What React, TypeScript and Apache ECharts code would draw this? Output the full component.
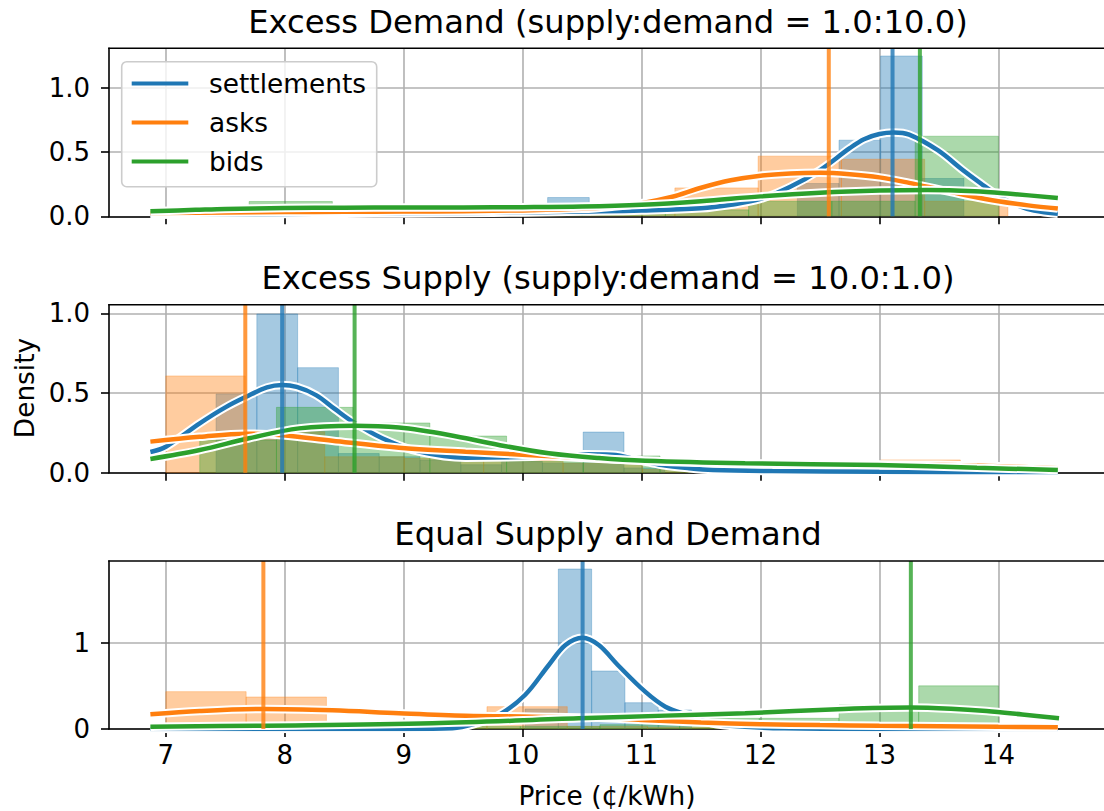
import React, { useEffect, useRef } from "react";
import * as echarts from "echarts";

const SERIES_NAMES = ["settlements", "asks", "bids"];
const LINE_COLORS = ["#1f77b4", "#ff7f0e", "#2ca02c"];
const FILL_COLORS = ["rgba(31,119,180,0.4)", "rgba(255,127,14,0.4)", "rgba(44,160,44,0.4)"];
const MEAN_COLORS = ["rgba(31,119,180,0.8)", "rgba(255,127,14,0.8)", "rgba(44,160,44,0.8)"];
const PANEL_TITLES = [
  "Excess Demand (supply:demand = 1.0:10.0)",
  "Excess Supply (supply:demand = 10.0:1.0)",
  "Equal Supply and Demand",
];
const X_LABEL = "Price (¢/kWh)";
const Y_LABEL = "Density";
const X_TICKS = [7, 8, 9, 10, 11, 12, 13, 14];
const Y_TICKS = [[0, 0.5, 1.0], [0, 0.5, 1.0], [0, 1]];
const Y_MAX = [1.307, 1.054, 1.947];
const Y_INTERVAL = [0.5, 0.5, 1];
const Y_DECIMALS = [1, 1, 0];
const X_MIN = 6.522;
const X_MAX = 14.888;

// histograms: [binStart, binEnd, density]
const p1SettleHist = [[10.21, 10.56, 0.146], [12.31, 12.66, 0.255], [12.66, 13.01, 0.592], [13.01, 13.36, 1.247], [13.36, 13.71, 0.294]];
const p1AsksHist = [[7.08, 7.78, 0.025], [7.78, 8.48, 0.025], [8.48, 9.18, 0.025], [9.18, 9.88, 0.025], [9.88, 10.58, 0.025], [10.58, 11.28, 0.04], [11.28, 11.98, 0.221], [11.98, 12.68, 0.468], [12.68, 13.38, 0.444], [13.38, 14.08, 0.117]];
const p1BidsHist = [[7.0, 7.7, 0.03], [7.7, 8.4, 0.115], [8.4, 9.1, 0.03], [9.1, 9.8, 0.03], [9.8, 10.5, 0.03], [10.5, 11.2, 0.05], [11.2, 11.9, 0.05], [11.9, 12.6, 0.117], [12.6, 13.3, 0.117], [13.3, 14.0, 0.623]];

const p2SettleHist = [[7.422, 7.765, 0.494], [7.765, 8.108, 0.996], [8.108, 8.451, 0.659], [8.451, 8.794, 0.12], [8.794, 9.137, 0.1], [9.137, 9.48, 0.08], [9.48, 9.823, 0.05], [9.823, 10.166, 0.07], [10.166, 10.509, 0.06], [10.509, 10.852, 0.255], [10.852, 11.195, 0.03]];
const p2AsksHist = [[7.0, 7.668, 0.607], [7.668, 8.336, 0.257], [8.336, 9.004, 0.1], [9.004, 9.672, 0.09], [9.672, 10.34, 0.08], [10.34, 11.008, 0.06], [11.008, 11.676, 0.02], [11.676, 12.344, 0.02], [12.344, 13.012, 0.0], [13.012, 13.68, 0.08]];
const p2BidsHist = [[7.285, 7.93, 0.205], [7.93, 8.575, 0.41], [8.575, 9.22, 0.312], [9.22, 9.865, 0.23], [9.865, 10.51, 0.07], [10.51, 11.155, 0.105], [11.155, 11.8, 0.03], [11.8, 12.445, 0.02], [12.445, 13.09, 0.02], [13.09, 13.735, 0.02]];

const p3SettleHist = [[10.02, 10.3, 0.232], [10.3, 10.58, 1.854], [10.58, 10.86, 0.672], [10.86, 11.14, 0.305], [11.14, 11.42, 0.22]];
const p3AsksHist = [[7.0, 7.675, 0.433], [7.675, 8.35, 0.371], [8.35, 9.025, 0.02], [9.025, 9.7, 0.04], [9.7, 10.375, 0.259], [10.375, 11.05, 0.03], [11.05, 11.725, 0.02], [11.725, 12.4, 0.015], [12.4, 13.075, 0.015], [13.075, 13.75, 0.015]];
const p3BidsHist = [[7.3, 7.97, 0.02], [7.97, 8.64, 0.02], [8.64, 9.31, 0.03], [9.31, 9.98, 0.03], [9.98, 10.65, 0.03], [10.65, 11.32, 0.05], [11.32, 11.99, 0.124], [11.99, 12.66, 0.124], [12.66, 13.33, 0.278], [13.33, 14.0, 0.5]];

// KDE curves: [price, density]
const p1SettleKde = [[6.87, 0.012], [7.5, 0.015], [8.0, 0.018], [8.5, 0.02], [9.0, 0.022], [9.5, 0.025], [10.0, 0.03], [10.5, 0.037], [11.0, 0.045], [11.5, 0.062], [11.75, 0.09], [12.0, 0.135], [12.25, 0.23], [12.5, 0.36], [12.75, 0.53], [12.87, 0.6], [13.0, 0.64], [13.12, 0.652], [13.25, 0.635], [13.49, 0.514], [13.7, 0.36], [13.85, 0.257], [14.0, 0.16], [14.16, 0.085], [14.3, 0.045], [14.5, 0.02]];
const p1AsksKde = [[6.87, 0.026], [7.5, 0.03], [8.0, 0.033], [8.5, 0.035], [9.0, 0.037], [9.5, 0.04], [10.0, 0.046], [10.5, 0.058], [10.75, 0.075], [11.0, 0.102], [11.25, 0.15], [11.5, 0.222], [11.75, 0.28], [12.0, 0.316], [12.25, 0.333], [12.5, 0.338], [12.75, 0.327], [13.0, 0.303], [13.25, 0.26], [13.5, 0.21], [13.75, 0.16], [14.0, 0.117], [14.25, 0.085], [14.5, 0.06]];
const p1BidsKde = [[6.87, 0.039], [7.25, 0.05], [7.5, 0.057], [8.0, 0.064], [8.5, 0.067], [9.0, 0.068], [9.5, 0.069], [10.0, 0.071], [10.5, 0.076], [11.0, 0.09], [11.5, 0.118], [12.0, 0.155], [12.5, 0.183], [13.0, 0.2], [13.4, 0.205], [13.8, 0.195], [14.1, 0.175], [14.5, 0.143]];

const p2SettleKde = [[6.87, 0.13], [7.0, 0.163], [7.285, 0.31], [7.5, 0.41], [7.676, 0.477], [7.85, 0.535], [7.978, 0.55], [8.1, 0.538], [8.263, 0.487], [8.42, 0.4], [8.57, 0.32], [8.82, 0.216], [9.13, 0.132], [9.52, 0.094], [10.08, 0.1], [10.5, 0.115], [10.75, 0.112], [11.0, 0.075], [11.17, 0.048], [11.4, 0.028], [11.6, 0.017], [12.1, 0.01], [13.0, 0.006], [14.5, 0.004]];
const p2AsksKde = [[6.87, 0.195], [7.285, 0.225], [7.668, 0.245], [7.98, 0.235], [8.4, 0.2], [8.96, 0.157], [9.52, 0.132], [10.08, 0.11], [10.64, 0.088], [11.0, 0.075], [11.5, 0.062], [12.0, 0.055], [12.5, 0.052], [13.0, 0.052], [13.5, 0.05], [14.0, 0.04], [14.5, 0.028]];
const p2BidsKde = [[6.87, 0.086], [7.285, 0.142], [7.7, 0.216], [8.12, 0.278], [8.587, 0.295], [8.96, 0.283], [9.38, 0.237], [9.8, 0.174], [10.22, 0.122], [10.64, 0.092], [11.03, 0.075], [11.87, 0.059], [12.99, 0.048], [13.82, 0.031], [14.5, 0.017]];

const p3SettleKde = [[6.87, 0.0], [9.0, 0.001], [9.41, 0.008], [9.6, 0.06], [9.8, 0.162], [10.02, 0.394], [10.22, 0.742], [10.36, 0.973], [10.504, 1.058], [10.64, 0.973], [10.8, 0.742], [11.03, 0.433], [11.2, 0.259], [11.39, 0.162], [11.59, 0.066], [11.87, 0.027], [12.2, 0.008], [13.0, 0.001], [14.5, 0.0]];
const p3AsksKde = [[6.87, 0.17], [7.285, 0.209], [7.82, 0.232], [8.4, 0.216], [8.96, 0.182], [9.52, 0.154], [10.08, 0.143], [10.64, 0.13], [11.0, 0.105], [11.5, 0.075], [12.0, 0.055], [12.5, 0.045], [13.0, 0.038], [13.5, 0.032], [14.0, 0.025], [14.5, 0.02]];
const p3BidsKde = [[6.87, 0.027], [7.84, 0.039], [9.24, 0.066], [10.47, 0.124], [11.2, 0.155], [11.87, 0.182], [12.7, 0.232], [13.26, 0.249], [13.6, 0.235], [13.9, 0.208], [14.2, 0.168], [14.51, 0.124]];

// means: settlements, asks, bids
const p1Means = [13.11, 12.574, 13.34];
const p2Means = [7.978, 7.668, 8.587];
const p3Means = [10.504, 7.82, 13.264];

const PANEL_HISTS = [[p1SettleHist, p1AsksHist, p1BidsHist], [p2SettleHist, p2AsksHist, p2BidsHist], [p3SettleHist, p3AsksHist, p3BidsHist]];
const PANEL_KDES = [[p1SettleKde, p1AsksKde, p1BidsKde], [p2SettleKde, p2AsksKde, p2BidsKde], [p3SettleKde, p3AsksKde, p3BidsKde]];
const PANEL_MEANS = [p1Means, p2Means, p3Means];

const FONT = "DejaVu Sans";
const GRID_LEFT = 109;
const GRID_WIDTH = 998;
const GRID_HEIGHT = 168;
const GRID_TOPS = [48.3, 304.7, 561];

function buildOption() {
  const grids = GRID_TOPS.map((top) => ({
    left: GRID_LEFT,
    top,
    width: GRID_WIDTH,
    height: GRID_HEIGHT,
    show: false,
  }));

  const xAxes = GRID_TOPS.map((_, i) => ({
    type: "value",
    gridIndex: i,
    min: X_MIN,
    max: X_MAX,
    splitNumber: 8,
    axisLine: { show: true, onZero: false, lineStyle: { color: "#000", width: 1.6 } },
    axisTick: { show: true, length: 8, customValues: X_TICKS, lineStyle: { color: "#000", width: 1.6 } },
    axisLabel: {
      show: i === 2,
      customValues: X_TICKS,
      fontSize: 26,
      fontFamily: FONT,
      color: "#000",
      margin: 13,
      formatter: (v: number) => (Math.abs(v - Math.round(v)) < 1e-6 ? String(Math.round(v)) : ""),
    },
    splitLine: { show: true, lineStyle: { color: "#b0b0b0", width: 1.6 } },
  }));

  const yAxes = GRID_TOPS.map((_, i) => ({
    type: "value",
    gridIndex: i,
    min: 0,
    max: Y_MAX[i],
    interval: Y_INTERVAL[i],
    axisLine: { show: true, onZero: false, lineStyle: { color: "#000", width: 1.6 } },
    axisTick: { show: true, length: 8, customValues: Y_TICKS[i], lineStyle: { color: "#000", width: 1.6 } },
    axisLabel: {
      show: true,
      customValues: Y_TICKS[i],
      fontSize: 26,
      fontFamily: FONT,
      color: "#000",
      margin: 19,
      formatter: (v: number) => {
        const ok = Y_TICKS[i].some((t) => Math.abs(t - v) < 1e-6);
        return ok ? v.toFixed(Y_DECIMALS[i]) : "";
      },
    },
    splitLine: { show: true, lineStyle: { color: "#b0b0b0", width: 1.6 } },
  }));

  const series: any[] = [];
  for (let p = 0; p < 3; p++) {
    for (let s = 0; s < 3; s++) {
      series.push({
        type: "custom",
        name: SERIES_NAMES[s] + " hist " + p,
        xAxisIndex: p,
        yAxisIndex: p,
        z: 2,
        silent: true,
        clip: true,
        encode: { x: [0, 1], y: 2 },
        data: PANEL_HISTS[p][s],
        renderItem: (params: any, api: any) => {
          const a = api.coord([api.value(0), api.value(2)]);
          const b = api.coord([api.value(1), 0]);
          return {
            type: "rect",
            shape: { x: a[0], y: a[1], width: b[0] - a[0], height: b[1] - a[1] },
            style: { fill: FILL_COLORS[s], stroke: FILL_COLORS[s], lineWidth: 0.8 },
          };
        },
      });
    }
    for (let s = 0; s < 3; s++) {
      series.push({
        type: "line",
        name: SERIES_NAMES[s] + " outline " + p,
        xAxisIndex: p,
        yAxisIndex: p,
        z: 3,
        silent: true,
        symbol: "none",
        showSymbol: false,
        smooth: 0.35,
        data: PANEL_KDES[p][s],
        lineStyle: { color: "#ffffff", width: 8.5 },
      });
      series.push({
        type: "line",
        name: SERIES_NAMES[s],
        xAxisIndex: p,
        yAxisIndex: p,
        z: 3,
        silent: true,
        symbol: "none",
        showSymbol: false,
        smooth: 0.35,
        data: PANEL_KDES[p][s],
        lineStyle: { color: LINE_COLORS[s], width: 4.5 },
      });
    }
    for (let s = 0; s < 3; s++) {
      series.push({
        type: "custom",
        name: SERIES_NAMES[s] + " mean " + p,
        xAxisIndex: p,
        yAxisIndex: p,
        z: 4,
        silent: true,
        encode: { x: 0, y: 1 },
        data: [[PANEL_MEANS[p][s], 0]],
        renderItem: (params: any, api: any) => {
          const x = api.coord([api.value(0), 0])[0];
          const cs = params.coordSys;
          return {
            type: "line",
            shape: { x1: x, y1: cs.y, x2: x, y2: cs.y + cs.height },
            style: { stroke: MEAN_COLORS[s], lineWidth: 4 },
          };
        },
      });
    }
  }

  const graphic: any[] = [];
  // top spines
  GRID_TOPS.forEach((top) => {
    graphic.push({
      type: "line",
      z: 90,
      shape: { x1: GRID_LEFT - 0.8, y1: top, x2: GRID_LEFT + GRID_WIDTH, y2: top },
      style: { stroke: "#000", lineWidth: 1.6 },
    });
  });
  const titleYs = [21.5, 278, 534];
  PANEL_TITLES.forEach((t, i) => {
    graphic.push({
      type: "text",
      z: 100,
      x: GRID_LEFT + GRID_WIDTH / 2,
      y: titleYs[i],
      style: { text: t, fontSize: 32.2, fontFamily: FONT, fill: "#000", textAlign: "center", textVerticalAlign: "middle" },
    });
  });
  graphic.push({
    type: "text",
    z: 100,
    x: 607,
    y: 795,
    style: { text: X_LABEL, fontSize: 26.4, fontFamily: FONT, fill: "#000", textAlign: "center", textVerticalAlign: "middle" },
  });
  graphic.push({
    type: "text",
    z: 100,
    x: 24,
    y: 388,
    rotation: Math.PI / 2,
    style: { text: Y_LABEL, fontSize: 26.4, fontFamily: FONT, fill: "#000", textAlign: "center", textVerticalAlign: "middle" },
  });
  // legend
  graphic.push({
    type: "rect",
    z: 100,
    shape: { x: 121.7, y: 61.7, width: 255, height: 125, r: 5 },
    style: { fill: "rgba(255,255,255,0.8)", stroke: "#cccccc", lineWidth: 1.6 },
  });
  const legendYs = [83.5, 122.5, 161.5];
  SERIES_NAMES.forEach((n, i) => {
    graphic.push({
      type: "line",
      z: 101,
      shape: { x1: 131.7, y1: legendYs[i], x2: 188.3, y2: legendYs[i] },
      style: { stroke: LINE_COLORS[i], lineWidth: 4 },
    });
    graphic.push({
      type: "text",
      z: 101,
      x: 209,
      y: legendYs[i],
      style: { text: n, fontSize: 26.4, fontFamily: FONT, fill: "#000", textAlign: "left", textVerticalAlign: "middle" },
    });
  });

  return {
    animation: false,
    backgroundColor: "#ffffff",
    grid: grids,
    xAxis: xAxes,
    yAxis: yAxes,
    series,
    graphic,
  };
}

export default function App() {
  const ref = useRef<HTMLDivElement>(null);
  useEffect(() => {
    if (!ref.current) return;
    const chart = echarts.init(ref.current, undefined, { renderer: "svg" });
    chart.setOption(buildOption() as any);
    return () => chart.dispose();
  }, []);
  return (
    <div
      ref={ref}
      style={{ position: "fixed", left: 0, top: 0, width: 1104, height: 811, background: "#fff" }}
    />
  );
}
